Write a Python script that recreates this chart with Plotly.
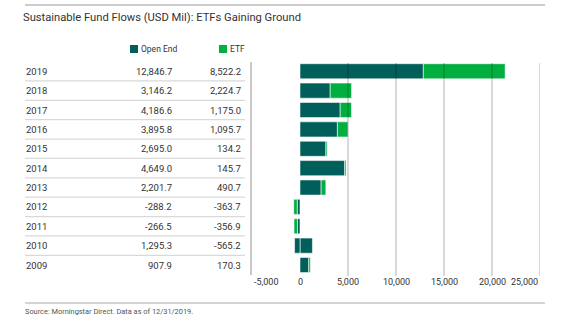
import plotly.graph_objects as go

# Annual sustainable fund flows, USD millions
years = ["2019", "2018", "2017", "2016", "2015", "2014", "2013", "2012", "2011", "2010", "2009"]
open_end = [12846.7, 3146.2, 4186.6, 3895.8, 2695.0, 4649.0, 2201.7, -288.2, -266.5, 1295.3, 907.9]
etf = [8522.2, 2224.7, 1175.0, 1095.7, 134.2, 145.7, 490.7, -363.7, -356.9, -565.2, 170.3]

x_ticks = [-5000, 0, 5000, 10000, 15000, 20000, 25000]
grid_vals = [5000, 10000, 15000, 20000, 25000]

TEAL = "#005F5B"
GREEN = "#00AF3F"
FONT = "Roboto, Liberation Sans, sans-serif"
TEXT = "#333333"

W, H = 565, 324


def px_x(p):
    return p / W


def px_y(p):
    return 1 - p / H


# the 2010 ETF outflow segment is rendered in the open-end colour
etf_colors = [TEAL if y == "2010" else GREEN for y in years]

fig = go.Figure()
fig.add_trace(go.Bar(
    y=years, x=open_end, orientation="h", name="Open End",
    marker=dict(color=TEAL, line=dict(color="rgba(255,255,255,0.55)", width=1)),
    hoverinfo="skip",
))
fig.add_trace(go.Bar(
    y=years, x=etf, orientation="h", name="ETF",
    marker=dict(color=etf_colors, line=dict(color="rgba(255,255,255,0.55)", width=1)),
    hoverinfo="skip",
))

shapes = []
annotations = []

# vertical gridlines drawn over the bars
for v in grid_vals:
    shapes.append(dict(type="line", xref="x", yref="paper", x0=v, x1=v,
                       y0=px_y(276), y1=px_y(63), layer="above",
                       line=dict(color="rgba(0,0,0,0.2)", width=1.5)))

# x tick labels; the end labels are pulled inside the plot edges
for i, v in enumerate(x_ticks):
    anchor = "left" if i == 0 else ("right" if i == len(x_ticks) - 1 else "center")
    annotations.append(dict(x=v, y=px_y(282), xref="x", yref="paper", xanchor=anchor,
                            yanchor="middle", text=f"{v:,}", showarrow=False,
                            font=dict(family=FONT, size=9, color=TEXT)))

# table rows (category index positions on the y axis)
for i, yr in enumerate(years):
    annotations.append(dict(x=px_x(24), y=i, xref="paper", yref="y", xanchor="left",
                            yanchor="middle", text=yr, showarrow=False,
                            font=dict(family=FONT, size=9.5, color=TEXT)))
    annotations.append(dict(x=px_x(174), y=i, xref="paper", yref="y", xanchor="right",
                            yanchor="middle", text=f"{open_end[i]:,.1f}", showarrow=False,
                            font=dict(family=FONT, size=9.5, color=TEXT)))
    annotations.append(dict(x=px_x(243), y=i, xref="paper", yref="y", xanchor="right",
                            yanchor="middle", text=f"{etf[i]:,.1f}", showarrow=False,
                            font=dict(family=FONT, size=9.5, color=TEXT)))
    if i < len(years) - 1:
        shapes.append(dict(type="line", xref="paper", yref="y", x0=px_x(25), x1=px_x(245),
                           y0=i + 0.5, y1=i + 0.5,
                           line=dict(color="#d9d9d9", width=1.2)))

# legend swatches and labels
legend_items = [("Open End", TEAL, 130), ("ETF", GREEN, 219)]
for name, color, x0 in legend_items:
    shapes.append(dict(type="rect", xref="paper", yref="paper",
                       x0=px_x(x0), x1=px_x(x0 + 8), y0=px_y(53), y1=px_y(45),
                       fillcolor=color, line=dict(width=0)))
    annotations.append(dict(x=px_x(x0 + 9), y=px_y(49), xref="paper", yref="paper",
                            xanchor="left", yanchor="middle", text=name, showarrow=False,
                            font=dict(family=FONT, size=8.5, color=TEXT)))

# title, source and rules
annotations.append(dict(x=px_x(21), y=px_y(17), xref="paper", yref="paper", xanchor="left",
                        yanchor="middle", showarrow=False,
                        text="Sustainable Fund Flows (USD Mil): ETFs Gaining Ground",
                        font=dict(family=FONT, size=11.2, color="#333333")))
annotations.append(dict(x=px_x(23), y=px_y(311), xref="paper", yref="paper", xanchor="left",
                        yanchor="middle", showarrow=False,
                        text="Source: Morningstar Direct. Data as of 12/31/2019.",
                        font=dict(family=FONT, size=7.4, color="#555555")))
shapes.append(dict(type="line", xref="paper", yref="paper", x0=px_x(25), x1=px_x(545),
                   y0=px_y(5), y1=px_y(5), line=dict(color="#bbbbbb", width=1.5)))
shapes.append(dict(type="line", xref="paper", yref="paper", x0=px_x(25), x1=px_x(545),
                   y0=px_y(303), y1=px_y(303), line=dict(color="#aaaaaa", width=1.2)))

fig.update_layout(
    width=W, height=H,
    margin=dict(l=0, r=0, t=0, b=0),
    paper_bgcolor="white", plot_bgcolor="white",
    barmode="relative", bargap=0.22,
    showlegend=False,
    shapes=shapes, annotations=annotations,
    xaxis=dict(domain=[px_x(252), px_x(540)], range=[-5000, 25000],
               showgrid=False, zeroline=False, showticklabels=False, ticks=""),
    yaxis=dict(domain=[px_y(274.7), px_y(61.6)], range=[10.5, -0.5],
               type="category", showgrid=False, zeroline=False, showticklabels=False,
               showline=True, linecolor="#c8c8c8", linewidth=1.5, ticks=""),
)

fig.write_html("out.html")
